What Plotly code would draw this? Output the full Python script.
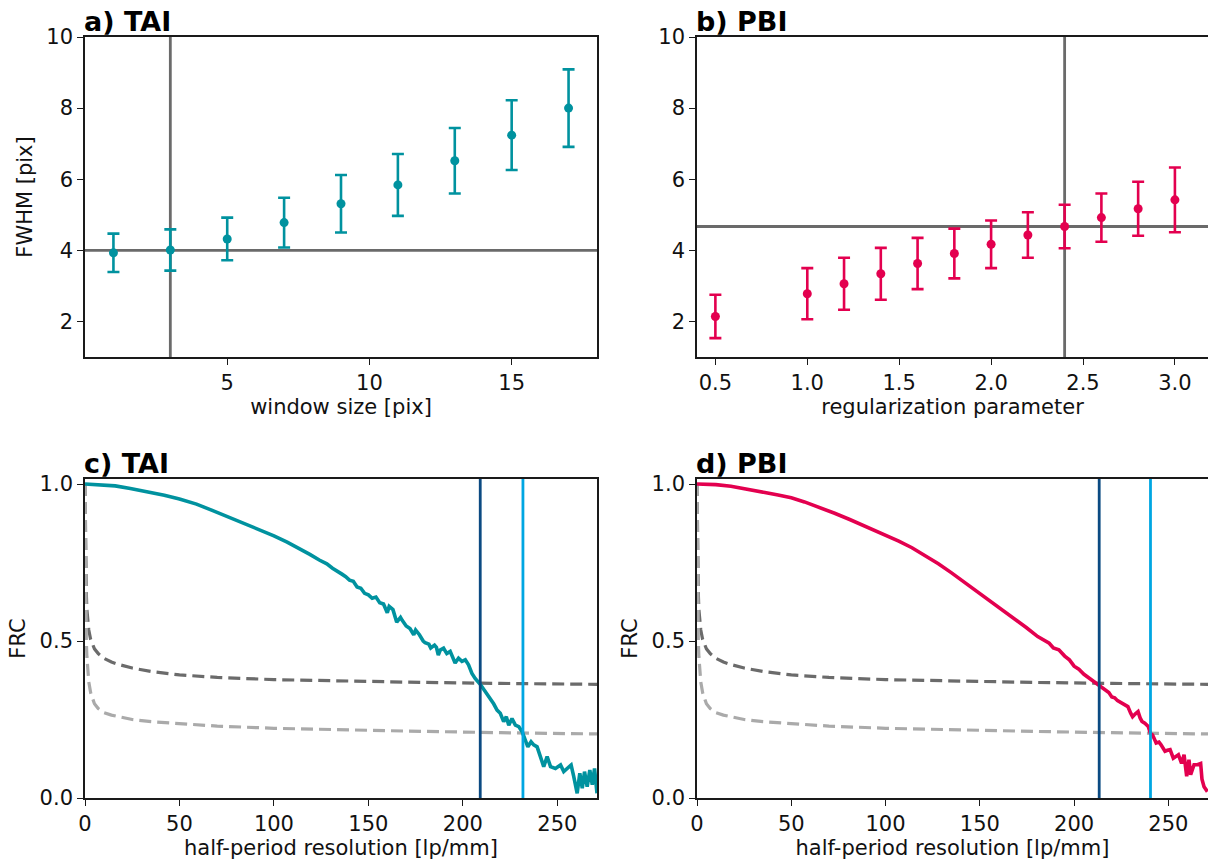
import plotly.graph_objects as go

# ---------------- data ----------------
# a) TAI : FWHM vs window size
tai_window = [1, 3, 5, 7, 9, 11, 13, 15, 17]
tai_fwhm = [3.93, 4.01, 4.32, 4.78, 5.31, 5.84, 6.52, 7.24, 8.00]
tai_fwhm_err = [0.54, 0.58, 0.60, 0.70, 0.81, 0.87, 0.92, 0.98, 1.09]
tai_sel_window = 3
tai_sel_fwhm = 4.0

# b) PBI : FWHM vs regularization parameter
pbi_reg = [0.5, 1.0, 1.2, 1.4, 1.6, 1.8, 2.0, 2.2, 2.4, 2.6, 2.8, 3.0]
pbi_fwhm = [2.14, 2.78, 3.06, 3.34, 3.63, 3.91, 4.17, 4.43, 4.67, 4.92, 5.17, 5.42]
pbi_fwhm_err = [0.61, 0.72, 0.73, 0.73, 0.72, 0.70, 0.67, 0.64, 0.61, 0.68, 0.76, 0.91]
pbi_sel_reg = 2.4
pbi_sel_fwhm = 4.67

# c) TAI FRC
tai_freq = [0, 8, 16, 24, 33, 42, 50, 59, 67, 76, 85, 93, 100, 107, 114, 119, 124, 128,
            131, 134, 136, 138, 140, 142, 144, 146, 148, 150, 152, 154, 156, 158, 160, 161,
            163, 165, 167, 168, 170, 172, 174, 175, 177, 179, 180, 182, 183, 185, 186, 187,
            188, 189.8, 191.5, 193.3, 195.9, 197.7, 199.5, 201.3, 203, 204.8, 206.5, 209.2,
            211.9, 214.5, 216.3, 218.1, 219.8, 221.6, 223, 224.3, 226, 227.8, 229.6, 231.4,
            233.1, 234.4, 236.1, 237.5, 239.3, 241.1, 242.8, 244.6, 246.4, 249, 251.7, 253.4,
            255.2, 257.3, 258.7, 260.5, 261.9, 263.2, 264.4, 265.8, 267.2, 268.5, 269.7, 271]
tai_frc = [1.000, 0.998, 0.994, 0.986, 0.976, 0.964, 0.952, 0.936, 0.917, 0.895, 0.873, 0.852,
           0.835, 0.815, 0.793, 0.776, 0.758, 0.746, 0.732, 0.722, 0.713, 0.705, 0.694, 0.690,
           0.672, 0.668, 0.652, 0.647, 0.636, 0.640, 0.622, 0.618, 0.590, 0.610, 0.600, 0.560,
           0.575, 0.565, 0.548, 0.540, 0.520, 0.535, 0.520, 0.500, 0.495, 0.490, 0.478, 0.487,
           0.480, 0.455, 0.471, 0.477, 0.460, 0.467, 0.430, 0.445, 0.435, 0.440, 0.424, 0.397,
           0.381, 0.362, 0.339, 0.312, 0.300, 0.280, 0.270, 0.243, 0.259, 0.232, 0.253, 0.232,
           0.227, 0.211, 0.185, 0.163, 0.179, 0.169, 0.163, 0.132, 0.100, 0.132, 0.100, 0.094,
           0.105, 0.084, 0.094, 0.105, 0.068, 0.015, 0.079, 0.031, 0.084, 0.036, 0.089, 0.042,
           0.094, 0.015]
tai_res_dark = 209.2
tai_res_light = 231.8

# d) PBI FRC
pbi_freq = [0, 10, 18, 27, 36, 43, 50, 57, 65, 73, 81, 90, 100, 107, 114, 121, 128, 135, 142,
            150, 158, 163, 168.5, 174.6, 180.7, 184, 186.8, 189, 191.9, 195, 197.5, 200, 202.5,
            205.2, 207.5, 210.3, 212.3, 214.3, 216.5, 218.4, 220, 221.5, 223, 224, 226, 228.5,
            230, 231, 232.5, 233.9, 235, 236, 237.5, 239.3, 240.5, 241.6, 243.5, 245, 246, 248.2,
            249.5, 250.9, 252.6, 254, 255.3, 257, 258.3, 259.7, 260.9, 261.8, 263.6, 265.4, 267.1,
            267.8, 268.9, 270.7]
pbi_frc = [1.000, 0.998, 0.993, 0.984, 0.973, 0.965, 0.956, 0.943, 0.926, 0.907, 0.887, 0.864,
           0.838, 0.818, 0.797, 0.773, 0.746, 0.717, 0.686, 0.652, 0.617, 0.596, 0.572, 0.543,
           0.514, 0.502, 0.493, 0.478, 0.472, 0.452, 0.440, 0.420, 0.410, 0.394, 0.384, 0.372,
           0.364, 0.356, 0.344, 0.336, 0.322, 0.319, 0.310, 0.307, 0.298, 0.291, 0.270, 0.259,
           0.268, 0.275, 0.255, 0.244, 0.238, 0.228, 0.205, 0.201, 0.175, 0.178, 0.170, 0.149,
           0.152, 0.154, 0.127, 0.133, 0.138, 0.110, 0.138, 0.069, 0.122, 0.074, 0.106, 0.106,
           0.110, 0.060, 0.036, 0.020]
pbi_res_dark = 213.3
pbi_res_light = 240.5

# threshold curves (dashed)
thr_freq = [0, 0.3, 0.7, 1, 1.5, 2, 3, 4, 5, 7, 10, 14, 18, 25, 35, 50, 70, 100, 140, 180, 220, 271]
thr_dark = [1.0, 0.78, 0.65, 0.60, 0.56, 0.535, 0.505, 0.49, 0.475, 0.46, 0.445, 0.433, 0.425,
            0.414, 0.403, 0.392, 0.384, 0.377, 0.372, 0.368, 0.365, 0.362]
thr_light = [1.0, 0.62, 0.50, 0.45, 0.40, 0.37, 0.335, 0.315, 0.30, 0.285, 0.272, 0.264, 0.258,
             0.25, 0.243, 0.236, 0.229, 0.222, 0.216, 0.212, 0.208, 0.204]

# ---------------- style ----------------
TEAL = "#00929f"
RED = "#e3004f"
DARKBLUE = "#0b4a82"
LIGHTBLUE = "#00a6e2"
GRAY = "#6a6a6a"
DGRAY = "#6b6b6b"
LGRAY = "#aaaaaa"
FONT = "DejaVu Sans"
FS = 21

W, H = 1208, 867
def px(v):
    return v / W
def py(v):
    return 1 - v / H

xa = [px(85), px(597)]
xb = [px(697), 1.0]
ya = [py(357), py(37)]
yc = [py(798), py(479)]

fig = go.Figure()

# panel a
fig.add_trace(go.Scatter(x=tai_window, y=tai_fwhm, mode="markers",
                         marker=dict(color=TEAL, size=9),
                         error_y=dict(type="data", array=tai_fwhm_err, color=TEAL,
                                      thickness=2.6, width=6),
                         xaxis="x", yaxis="y", showlegend=False))
# panel b
fig.add_trace(go.Scatter(x=pbi_reg, y=pbi_fwhm, mode="markers",
                         marker=dict(color=RED, size=9),
                         error_y=dict(type="data", array=pbi_fwhm_err, color=RED,
                                      thickness=2.6, width=6),
                         xaxis="x2", yaxis="y2", showlegend=False))

# panel c & d
for xr, yr in [("x3", "y3"), ("x4", "y4")]:
    fig.add_trace(go.Scatter(x=thr_freq, y=thr_dark, mode="lines",
                             line=dict(color=DGRAY, width=3.2, dash="12px,6px"),
                             xaxis=xr, yaxis=yr, showlegend=False))
    fig.add_trace(go.Scatter(x=thr_freq, y=thr_light, mode="lines",
                             line=dict(color=LGRAY, width=3.2, dash="12px,6px"),
                             xaxis=xr, yaxis=yr, showlegend=False))
fig.add_trace(go.Scatter(x=tai_freq, y=tai_frc, mode="lines",
                         line=dict(color=TEAL, width=3.6),
                         xaxis="x3", yaxis="y3", showlegend=False))
fig.add_trace(go.Scatter(x=pbi_freq, y=pbi_frc, mode="lines",
                         line=dict(color=RED, width=3.6),
                         xaxis="x4", yaxis="y4", showlegend=False))

shapes = []
def vline(xref, yref, xv, color, width, layer="below"):
    shapes.append(dict(type="line", xref=xref, yref=yref + " domain", x0=xv, x1=xv, y0=0, y1=1,
                       line=dict(color=color, width=width), layer=layer))
def hline(xref, yref, yv, color, width, layer="below"):
    shapes.append(dict(type="line", xref=xref + " domain", yref=yref, x0=0, x1=1, y0=yv, y1=yv,
                       line=dict(color=color, width=width), layer=layer))

vline("x", "y", tai_sel_window, GRAY, 2.8)
hline("x", "y", tai_sel_fwhm, GRAY, 2.8)
vline("x2", "y2", pbi_sel_reg, GRAY, 2.8)
hline("x2", "y2", pbi_sel_fwhm, GRAY, 2.8)
vline("x3", "y3", tai_res_dark, DARKBLUE, 2.8, "above")
vline("x3", "y3", tai_res_light, LIGHTBLUE, 2.8, "above")
vline("x4", "y4", pbi_res_dark, DARKBLUE, 2.8, "above")
vline("x4", "y4", pbi_res_light, LIGHTBLUE, 2.8, "above")

axis_common = dict(showline=True, linecolor="#1a1a1a", linewidth=1.6, ticks="outside",
                   ticklen=6, tickwidth=1.4, tickcolor="#1a1a1a", showgrid=False,
                   zeroline=False, automargin=False,
                   tickfont=dict(family=FONT, size=FS, color="#111"),
                   title_font=dict(family=FONT, size=FS, color="#111"))

annotations = []
def title(text, x, ytop):
    annotations.append(dict(text="<b>" + text + "</b>", xref="paper", yref="paper",
                            x=x, y=ytop, xanchor="left", yanchor="bottom", showarrow=False,
                            font=dict(family=FONT, size=27, color="#000"), yshift=-2, xshift=-3))
title("a) TAI", xa[0], ya[1])
title("b) PBI", xb[0], ya[1])
title("c) TAI", xa[0], yc[1])
title("d) PBI", xb[0], yc[1])

fig.update_layout(
    width=W, height=H, margin=dict(l=0, r=0, t=0, b=0, autoexpand=False),
    paper_bgcolor="white", plot_bgcolor="white",
    shapes=shapes, annotations=annotations,
    xaxis=dict(domain=xa, anchor="y", range=[0, 18], tickvals=[5, 10, 15], mirror=True,
               title=dict(text="window size [pix]", standoff=4), **axis_common),
    yaxis=dict(domain=ya, anchor="x", range=[1, 10], tickvals=[2, 4, 6, 8, 10], mirror=True,
               title=dict(text="FWHM [pix]", standoff=8), **axis_common),
    xaxis2=dict(domain=xb, anchor="y2", range=[0.4, 3.18],
                tickvals=[0.5, 1.0, 1.5, 2.0, 2.5, 3.0], tickformat=".1f", mirror=True,
                title=dict(text="regularization parameter", standoff=4), **axis_common),
    yaxis2=dict(domain=ya, anchor="x2", range=[1, 10], tickvals=[2, 4, 6, 8, 10], mirror=False,
                **axis_common),
    xaxis3=dict(domain=xa, anchor="y3", range=[0, 271], tickvals=[0, 50, 100, 150, 200, 250],
                mirror=True, title=dict(text="half-period resolution [lp/mm]", standoff=4),
                **axis_common),
    yaxis3=dict(domain=yc, anchor="x3", range=[0, 1.016], tickvals=[0, 0.5, 1.0],
                tickformat=".1f", mirror=True, title=dict(text="FRC", standoff=8), **axis_common),
    xaxis4=dict(domain=xb, anchor="y4", range=[0, 271], tickvals=[0, 50, 100, 150, 200, 250],
                mirror=True, title=dict(text="half-period resolution [lp/mm]", standoff=4),
                **axis_common),
    yaxis4=dict(domain=yc, anchor="x4", range=[0, 1.016], tickvals=[0, 0.5, 1.0],
                tickformat=".1f", mirror=False, title=dict(text="FRC", standoff=8), **axis_common),
)

fig.write_html("out.html")
